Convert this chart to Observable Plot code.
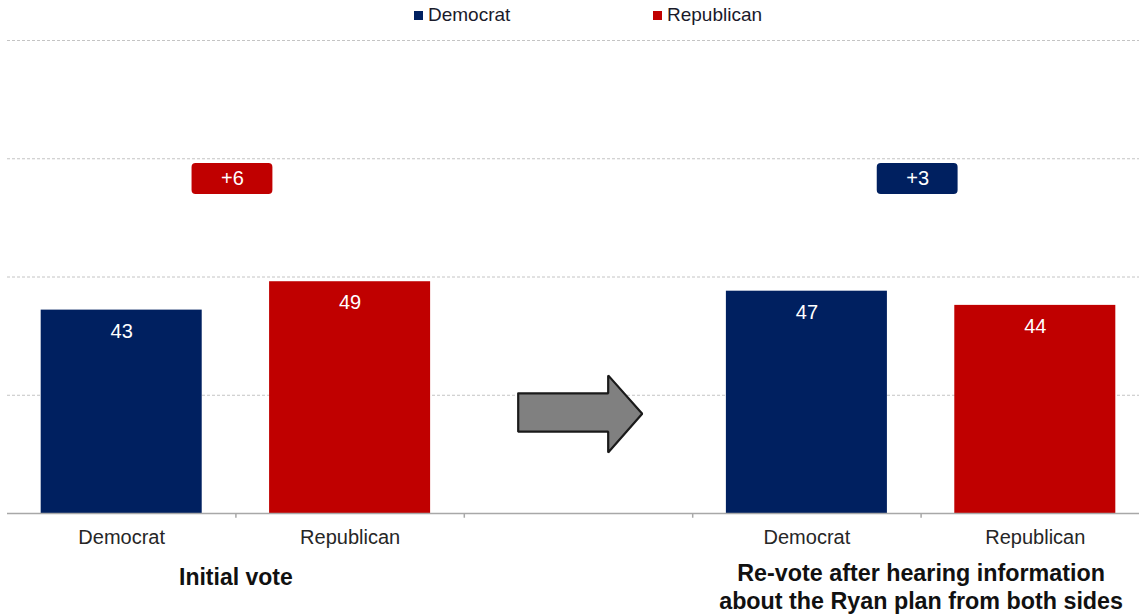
<!DOCTYPE html>
<html><head><meta charset="utf-8">
<script src="https://cdn.jsdelivr.net/npm/d3@7"></script>
<script src="https://cdn.jsdelivr.net/npm/@observablehq/plot@0.6"></script>
<style>
body{margin:0;background:#fff;font-family:"Liberation Sans",Arial,sans-serif;}
#legend{height:30px;position:relative;font-size:19px;color:#1a1a2a;}
.item{position:absolute;top:4px;display:flex;align-items:center;line-height:22px;}
.sw{width:9px;height:9px;margin-right:5px;}
</style></head><body>
<div id="legend"></div>
<div id="chart"></div>
<script>
// ---- data ----
const groupLabels = ["Initial vote", "Re-vote after hearing information\nabout the Ryan plan from both sides"];
const parties = ["Democrat", "Republican"];
const democratValues = [43, 47];
const republicanValues = [49, 44];
const leadLabels = ["+6", "+3"];
const partyColors = ["#002060", "#C00000"];
const gridValues = [25, 50, 75, 100];

// ---- layout helpers (slot units) ----
const barPad = 0.1475;
const slotsPerGroup = 3; // two bars + a gap slot
const leadLevel = 70.7;
const leadShift = -0.015;

const table = [];
groupLabels.forEach((g, gi) => {
  [democratValues[gi], republicanValues[gi]].forEach((v, pi) => {
    table.push({group: gi, party: parties[pi], value: v, slot: gi * slotsPerGroup + pi, color: partyColors[pi]});
  });
});
const groupCenters = groupLabels.map((g, gi) => ({label: g, gi, x: gi * slotsPerGroup + 1}));
const leads = leadLabels.map((l, gi) => ({
  label: l, x: gi * slotsPerGroup + 1 + leadShift,
  color: democratValues[gi] > republicanValues[gi] ? partyColors[0] : partyColors[1]
}));
const separators = [1, 2, 3, 4];
// arrow shape in the gap slot (slot 2), in slot / value units
const arrowPts = [[2.236,25.4],[2.630,25.4],[2.630,29.2],[2.779,21.1],[2.630,12.9],[2.630,17.3],[2.236,17.3],[2.236,25.4]]
  .map(([x, y]) => ({x, y}));

// ---- legend ----
const legend = document.getElementById("legend");
[414, 653].forEach((left, i) => {
  const it = document.createElement("div");
  it.className = "item"; it.style.left = left + "px";
  it.innerHTML = `<span class="sw" style="background:${partyColors[i]}"></span><span>${parties[i]}</span>`;
  legend.appendChild(it);
});

// ---- chart ----
const chart = Plot.plot({
  width: 1139, height: 584,
  marginTop: 10, marginBottom: 101, marginLeft: 7, marginRight: 0,
  style: {fontFamily: "Liberation Sans, Arial, sans-serif", background: "white"},
  x: {domain: [0, 5], range: [7, 1149], axis: null},
  y: {domain: [0, 100], axis: null},
  marks: [
    Plot.ruleY(gridValues, {stroke: "#c4c4c4", strokeDasharray: "3,2", strokeWidth: 1}),
    Plot.rectY(table, {x1: d => d.slot + barPad, x2: d => d.slot + 1 - barPad, y1: 0, y2: "value", fill: d => d.color}),
    Plot.ruleY([0], {stroke: "#a8a8a8", strokeWidth: 1.5}),
    Plot.ruleX(separators, {x: d => d, y1: 0, y2: -1, stroke: "#a8a8a8", strokeWidth: 1.5}),
    Plot.text(table, {x: d => d.slot + 0.5, y: "value", text: d => String(d.value), dy: 21, fill: "white", fontSize: 20}),
    Plot.text(table, {x: d => d.slot + 0.5, y: 0, text: "party", dy: 24, fill: "#262626", fontSize: 20}),
    Plot.line(arrowPts, {x: "x", y: "y", fill: "#808080", stroke: "#1a1a1a", strokeWidth: 2.2, strokeLinejoin: "miter"}),
    Plot.rect(leads, {x1: d => d.x - 0.177, x2: d => d.x + 0.177, y1: leadLevel - 3.28, y2: leadLevel + 3.28, fill: "color", rx: 4}),
    Plot.text(leads, {x: "x", y: leadLevel, text: "label", fill: "white", fontSize: 20}),
    Plot.text(groupCenters.filter(d => d.gi === 0), {x: "x", y: 0, text: "label", dy: 64, fontSize: 23, fontWeight: "bold", fill: "#111"}),
    Plot.text(groupCenters.filter(d => d.gi === 1), {x: "x", y: 0, text: "label", dy: 73, fontSize: 23.3, fontWeight: "bold", fill: "#111", lineHeight: 1.2})
  ]
});
document.getElementById("chart").appendChild(chart);
</script>
</body></html>
